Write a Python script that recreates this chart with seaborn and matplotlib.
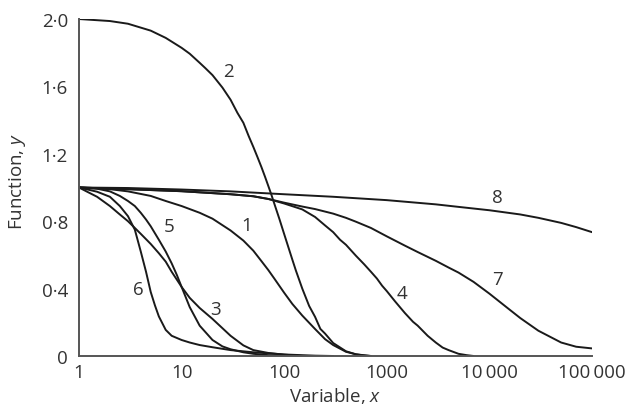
import matplotlib
matplotlib.use('Agg')
import matplotlib.pyplot as plt
import seaborn as sns
import pandas as pd

# values (x on a log axis)
x1 = [1, 2, 3, 5, 7, 10, 15, 20, 30, 40, 50, 60, 70, 80, 100, 120, 150, 200, 250,
      300, 400, 500, 700]
y1 = [1.0, 0.99, 0.977, 0.95, 0.92, 0.89, 0.85, 0.815, 0.745, 0.685, 0.625, 0.563,
      0.51, 0.46, 0.375, 0.309, 0.24, 0.16, 0.10, 0.065, 0.025, 0.01, 0.0]

x2 = [1, 2, 3, 5, 7, 10, 12, 15, 17, 20, 25, 30, 35, 40, 45, 50, 55, 60, 65, 70, 75,
      80, 90, 100, 110, 120, 130, 150, 175, 200, 225, 250, 300, 400, 500, 600, 700]
y2 = [2.0, 1.988, 1.972, 1.931, 1.888, 1.829, 1.794, 1.740, 1.709, 1.667, 1.593,
      1.521, 1.443, 1.384, 1.306, 1.241, 1.179, 1.121, 1.064, 1.009, 0.957, 0.905,
      0.811, 0.723, 0.644, 0.572, 0.507, 0.40, 0.297, 0.232, 0.161, 0.133, 0.077,
      0.028, 0.01, 0.003, 0.0]

x3 = [1, 1.2, 1.5, 2, 2.5, 3, 3.5, 4, 5, 6, 7, 8, 10, 12, 15, 20, 25, 30, 40, 50,
      70, 100, 150]
y3 = [1.0, 0.975, 0.945, 0.89, 0.84, 0.80, 0.76, 0.725, 0.665, 0.61, 0.56, 0.50,
      0.41, 0.345, 0.285, 0.22, 0.165, 0.12, 0.063, 0.035, 0.018, 0.008, 0.0]

x4 = [1, 3, 10, 30, 50, 70, 100, 150, 200, 250, 300, 350, 400, 500, 600, 700, 800,
      900, 1000, 1200, 1500, 1800, 2000, 2500, 3000, 3500, 4000, 5000, 6000, 7000]
y4 = [1.0, 0.99, 0.978, 0.96, 0.948, 0.932, 0.905, 0.87, 0.825, 0.775, 0.735, 0.69,
      0.66, 0.595, 0.545, 0.50, 0.46, 0.417, 0.385, 0.325, 0.255, 0.203, 0.18, 0.12,
      0.08, 0.05, 0.035, 0.013, 0.005, 0.0]

x5 = [1, 1.5, 2, 2.5, 3, 3.5, 4, 4.5, 5, 6, 7, 8, 9, 10, 12, 15, 20, 25, 30, 40,
      50, 70, 100]
y5 = [1.0, 0.993, 0.977, 0.95, 0.92, 0.89, 0.85, 0.81, 0.77, 0.69, 0.62, 0.55,
      0.48, 0.41, 0.29, 0.18, 0.095, 0.057, 0.04, 0.022, 0.013, 0.005, 0.0]

x6 = [1, 1.5, 2, 2.5, 3, 3.5, 4, 4.5, 5, 5.5, 6, 7, 8, 10, 12, 15, 20, 30, 50,
      100, 200, 300]
y6 = [1.0, 0.975, 0.945, 0.89, 0.83, 0.75, 0.62, 0.50, 0.38, 0.30, 0.235, 0.155,
      0.12, 0.095, 0.08, 0.065, 0.052, 0.035, 0.022, 0.009, 0.002, 0.0]

x7 = [1, 3, 10, 30, 50, 70, 100, 150, 200, 300, 400, 500, 700, 1000, 1500, 2000,
      3000, 4000, 5000, 7000, 10000, 15000, 20000, 30000, 50000, 70000, 100000]
y7 = [1.0, 0.99, 0.978, 0.96, 0.948, 0.932, 0.91, 0.887, 0.872, 0.845, 0.82, 0.797,
      0.76, 0.71, 0.655, 0.617, 0.565, 0.525, 0.495, 0.44, 0.37, 0.285, 0.225, 0.15,
      0.08, 0.055, 0.045]

x8 = [1, 3, 10, 30, 100, 300, 1000, 3000, 5000, 10000, 20000, 30000, 50000, 70000,
      100000]
y8 = [1.0, 0.997, 0.988, 0.977, 0.96, 0.945, 0.925, 0.90, 0.885, 0.865, 0.84, 0.82,
      0.79, 0.765, 0.735]

curve_names = ['1', '2', '3', '4', '5', '6', '7', '8']

# where the curve numbers sit (data coords)
label_x = [43.4, 28.3, 21.2, 1406, 7.5, 3.76, 11860, 11860]
label_y = [0.78, 1.69, 0.28, 0.374, 0.77, 0.40, 0.457, 0.944]

x_ticks = [1, 10, 100, 1000, 10000, 100000]
x_tick_labels = ['1', '10', '100', '1000', '10\u2009000', '100\u2009000']
y_ticks = [0, 0.4, 0.8, 1.2, 1.6, 2.0]
y_tick_labels = ['0', '0\u00b74', '0\u00b78', '1\u00b72', '1\u00b76', '2\u00b70']

frames = []
for name, xs, ys in zip(curve_names, [x1, x2, x3, x4, x5, x6, x7, x8],
                        [y1, y2, y3, y4, y5, y6, y7, y8]):
    frames.append(pd.DataFrame({'x': xs, 'y': ys, 'curve': name}))
df = pd.concat(frames, ignore_index=True)

sns.set_theme(style='white')
plt.rcParams['font.family'] = ['Open Sans', 'DejaVu Sans']
plt.rcParams['mathtext.fontset'] = 'custom'
plt.rcParams['mathtext.rm'] = 'Open Sans'
plt.rcParams['mathtext.it'] = 'Open Sans:italic'

text_col = '#333333'
axis_col = '#555555'
fs = 13.5

fig = plt.figure(figsize=(6.34, 4.06), dpi=100)
ax = fig.add_axes([0.1246, 0.1207, 0.8092, 0.83])

sns.lineplot(data=df, x='x', y='y', units='curve', estimator=None, sort=False,
             color='#1a1a1a', linewidth=1.4, ax=ax, legend=False)

ax.set_xscale('log')
ax.set_xlim(1, 100000)
ax.set_ylim(0, 2.0)
ax.set_xticks(x_ticks)
ax.set_xticklabels(x_tick_labels)
ax.set_yticks(y_ticks)
ax.set_yticklabels(y_tick_labels)
ax.minorticks_off()

for side in ['top', 'right']:
    ax.spines[side].set_visible(False)
for side in ['left', 'bottom']:
    ax.spines[side].set_color(axis_col)
    ax.spines[side].set_linewidth(1.4)

ax.tick_params(axis='both', direction='in', length=6.5, width=1.2, color=axis_col,
               labelsize=fs, labelcolor=text_col)
ax.tick_params(axis='x', pad=5)
ax.tick_params(axis='y', pad=8)

ax.set_xlabel('Variable, $x$', fontsize=fs, color=text_col, labelpad=3)
ax.set_ylabel('Function, $y$', fontsize=fs, color=text_col)
ax.yaxis.set_label_coords(-0.100, 0.52)

for name, lx, ly in zip(curve_names, label_x, label_y):
    ax.text(lx, ly, name, fontsize=fs, color=text_col, ha='center', va='center')

fig.savefig('out.png', dpi=100)
